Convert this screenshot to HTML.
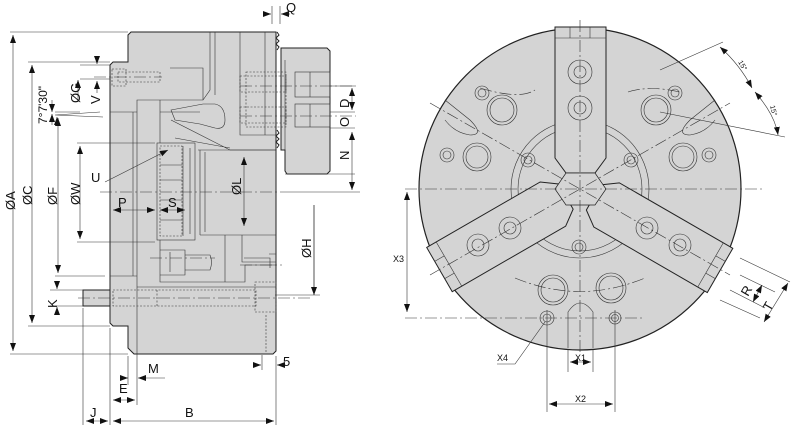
<!DOCTYPE html>
<html><head><meta charset="utf-8"><style>
html,body{margin:0;padding:0;background:#fff;}
svg{display:block;font-family:"Liberation Sans",sans-serif;}
.l{stroke:#222;stroke-width:1;fill:none}
.t{stroke:#333;stroke-width:0.6;fill:none}
.d{stroke:#333;stroke-width:0.6;fill:none;stroke-dasharray:2,1.5}
.c{stroke:#333;stroke-width:0.6;fill:none;stroke-dasharray:12,3,2,3}
text{font-size:13px;fill:#111}
.s{font-size:9px}
</style></head><body>
<svg width="800" height="429" viewBox="0 0 800 429">
<defs>
<marker id="a" markerWidth="8" markerHeight="6" refX="8" refY="3" orient="auto-start-reverse" markerUnits="userSpaceOnUse"><path d="M0,0 L8,3 L0,6 z" fill="#111"/></marker>
</defs>

<g>
<path d="M131,32 L276,32 L276,351 L273,354 L134,354 L128,348 L128,326 L113,326 L110,323 L110,65 L113,62 L128,62 L128,35 Z" fill="#d4d4d4" stroke="#222"/>
<rect x="83" y="290" width="27" height="16" fill="#d4d4d4" stroke="#222"/>
<path d="M281,48 L327,48 L330,51 L330,171 L327,174 L287,174 L285,171 L285,150 L281,150 Z" fill="#d4d4d4" stroke="#222"/>
<path class="l" d="M277,32 l2,3 l-3,3 l3,3 l-3,3 l3,3 l-2,3 M277,130 l2,3 l-3,3 l3,3 l-3,3 l3,3 l-2,3"/>
<rect x="295" y="72" width="35" height="25" class="t"/>
<rect x="295" y="104" width="35" height="23" class="t"/>
<line x1="310" y1="72" x2="310" y2="97" class="t"/><line x1="310" y1="104" x2="310" y2="127" class="t"/>
<line x1="285" y1="60" x2="285" y2="150" class="t"/>
<rect x="246" y="72" width="40" height="55" class="d"/>
<rect x="240" y="76" width="46" height="16" class="d"/>
<rect x="240" y="107" width="46" height="16" class="d"/>
<path class="t" d="M210,32 L210,90 L203,100 L137,100 L137,326 M215,32 L215,95 M240,32 L240,135 L276,135 M265,32 L265,135"/>
<path class="t" d="M137,112 L133,112 L133,276 L137,276 M133,112 L110,112 M110,276 L133,276"/>
<path class="t" d="M160,100 L160,143 M160,112 L200,112 M170,68 L203,68 L203,100"/>
<path class="t" d="M171,110 L203,104 L215,104 Q225,106 225,120 Q225,130 215,128 L200,124 L175,120 Z"/>
<path class="t" d="M171,120 L230,150 L276,150 M175,138 L230,148"/>
<rect x="157" y="143" width="38" height="97" class="t"/>
<rect x="160" y="146" width="22" height="90" class="d"/>
<line x1="183" y1="146" x2="183" y2="236" class="t"/>
<line x1="190" y1="148" x2="190" y2="234" class="t"/>
<path class="t" d="M160,165 L182,165 M160,180 L182,180 M160,200 L182,200 M160,220 L182,220"/>
<path class="t" d="M198,150 L276,150 M200,150 L200,235 M205,152 L205,232 M200,235 L276,235"/>
<path class="t" d="M160,240 L160,282 L245,282 L245,265 L276,265 M160,250 L185,250 L185,275 L160,275 M170,252 L170,272 M185,255 L210,255 Q213,262 210,270 L185,270"/>
<path class="t" d="M225,235 L225,282 M242,235 L242,262 L276,262 M244,258 L270,258 L270,268 M269,254 L276,254"/>
<path class="t" d="M137,287 L276,287"/>
<rect x="113" y="290" width="143" height="16" class="d"/>
<rect x="255" y="282" width="21" height="30" class="d"/>
<path class="d" d="M266,315 L266,352 M157,290 L157,306"/>
<rect x="112" y="69" width="14" height="17" class="d"/>
<rect x="118" y="72" width="42" height="10" class="d"/>
<line x1="100" y1="192" x2="290" y2="192" class="c"/>
<line x1="290" y1="192" x2="360" y2="192" class="t"/>
<line x1="78" y1="298" x2="310" y2="298" class="c"/>
<line x1="94" y1="77" x2="162" y2="77" class="c"/>
<line x1="240" y1="86" x2="356" y2="86" class="c"/>
<line x1="240" y1="116" x2="356" y2="116" class="c"/>
<line x1="150" y1="258" x2="215" y2="258" class="c"/>
<line x1="240" y1="265" x2="282" y2="265" class="c"/>

<g class="t">
<path d="M10,32 L128,32 M10,354 L128,354 M28,62 L110,62 M28,326 L110,326 M55,112 L80,112 M55,276 L105,276 M77,143 L155,143 M77,242 L155,242"/>
<path d="M80,65 L110,65 M80,79 L110,79 M50,290 L83,290 M50,306 L83,306 M55,115 L100,112 M55,115 L103,117"/>
<path d="M83,308 L83,425 M110,328 L110,425 M128,356 L128,385 M137,326 L137,405 M276,356 L276,425 M262,355 L262,370 M272,6 L272,24 M280,6 L280,24"/>
<path d="M330,86 L355,86 M330,128 L355,128 M285,174 L355,174 M330,112 L355,112 M275,295 L320,295 M314,205 L314,295"/>
</g>
<g class="t" marker-start="url(#a)" marker-end="url(#a)">
<line x1="13" y1="35" x2="13" y2="351"/>
<line x1="32" y1="65" x2="32" y2="323"/>
<line x1="58" y1="118" x2="58" y2="273"/>
<line x1="80" y1="146" x2="80" y2="239"/>
<line x1="113" y1="210" x2="155" y2="210"/>
<line x1="160" y1="210" x2="185" y2="210"/>
<line x1="244" y1="157" x2="244" y2="226"/>
<line x1="352" y1="88" x2="352" y2="110"/>
<line x1="352" y1="132" x2="352" y2="190"/>
<line x1="86" y1="421" x2="108" y2="421"/>
<line x1="113" y1="421" x2="274" y2="421"/>
<line x1="113" y1="400" x2="135" y2="400"/>
</g>
<g class="t" marker-end="url(#a)">
<line x1="97" y1="60" x2="97" y2="64"/><line x1="97" y1="93" x2="97" y2="81"/>
<line x1="57" y1="285" x2="57" y2="289"/><line x1="57" y1="311" x2="57" y2="307"/>
<line x1="121" y1="378" x2="128" y2="378"/><line x1="165" y1="378" x2="138" y2="378"/>
<line x1="255" y1="365" x2="261" y2="365"/><line x1="285" y1="365" x2="277" y2="365"/>
<line x1="264" y1="14" x2="271" y2="14"/><line x1="290" y1="14" x2="281" y2="14"/>
<line x1="314" y1="205" x2="314" y2="295"/>
<line x1="78" y1="102" x2="78" y2="80"/>
<line x1="52" y1="100" x2="52" y2="112"/><line x1="52" y1="125" x2="52" y2="114"/>
<line x1="57" y1="125" x2="57" y2="117"/>
<line x1="105" y1="182" x2="168" y2="150"/>
</g>
<g>
<text transform="translate(15,210) rotate(-90)">ØA</text>
<text transform="translate(32,205) rotate(-90)">ØC</text>
<text transform="translate(57,205) rotate(-90)">ØF</text>
<text transform="translate(80,205) rotate(-90)">ØW</text>
<text transform="translate(80,103) rotate(-90)">ØG</text>
<text transform="translate(100,104) rotate(-90)">V</text>
<text transform="translate(47,124) rotate(-90)" style="font-size:12px">7°7'30"</text>
<text transform="translate(57,308) rotate(-90)">K</text>
<text transform="translate(241,195) rotate(-90)">ØL</text>
<text transform="translate(311,258) rotate(-90)">ØH</text>
<text transform="translate(349,108) rotate(-90)">D</text>
<text transform="translate(349,127) rotate(-90)">O</text>
<text transform="translate(349,160) rotate(-90)">N</text>
<text x="91" y="182">U</text>
<text x="118" y="207">P</text>
<text x="168" y="207">S</text>
<text x="148" y="373">M</text>
<text x="119" y="393">E</text>
<text x="90" y="417">J</text>
<text x="185" y="417">B</text>
<text x="283" y="366">5</text>
<text x="286" y="12">Q</text>
</g>
</g>

<g>
<circle cx="580" cy="189" r="161" fill="#d4d4d4" stroke="#222" stroke-width="1.2"/>
<circle cx="580" cy="189" r="69" class="t"/>
<circle cx="580" cy="189" r="62" class="t"/>
<g id="jaw">
<path d="M555,27 L606,27 L606,158 L595,173 L566,173 L555,158 Z" fill="#d4d4d4" stroke="#222"/>
<line x1="555" y1="38" x2="606" y2="38" class="t"/>
<line x1="570" y1="27" x2="570" y2="38" class="t"/><line x1="590" y1="27" x2="590" y2="38" class="t"/>
</g>
<use href="#jaw" transform="rotate(120 580 189)"/>
<use href="#jaw" transform="rotate(240 580 189)"/>
<path d="M566,173 L595,173 L606,189 L595,205 L566,205 L555,189 Z" fill="#d4d4d4" stroke="#222" stroke-width="0.7"/>
<line x1="405" y1="189" x2="765" y2="189" class="c"/>
<line x1="580" y1="20" x2="580" y2="355" class="c"/>
<line x1="430" y1="103" x2="730" y2="275" class="c"/>
<line x1="430" y1="275" x2="730" y2="103" class="c"/>
<line x1="405" y1="318" x2="645" y2="318" class="c"/>
<path d="M515,278 Q580,305 645,278" class="c"/>
<path d="M480,88 Q520,100 535,90" class="c"/>
<path d="M628,92 Q650,85 680,92" class="c"/>
<g class="t">
<circle cx="580" cy="72" r="12"/><circle cx="580" cy="72" r="6"/>
<circle cx="580" cy="108" r="12"/><circle cx="580" cy="108" r="6"/>
<circle cx="482" cy="93" r="7"/><circle cx="482" cy="93" r="4"/>
<circle cx="502" cy="110" r="15"/><circle cx="502" cy="110" r="12"/>
<circle cx="447" cy="155" r="7"/><circle cx="447" cy="155" r="4"/>
<circle cx="477" cy="157" r="14"/><circle cx="477" cy="157" r="11"/>
<circle cx="656" cy="110" r="15"/><circle cx="656" cy="110" r="12"/>
<circle cx="675" cy="93" r="7"/><circle cx="675" cy="93" r="4"/>
<circle cx="683" cy="157" r="14"/><circle cx="683" cy="157" r="11"/>
<circle cx="709" cy="155" r="7"/><circle cx="709" cy="155" r="4"/>
<circle cx="528" cy="160" r="7"/><circle cx="528" cy="160" r="4"/>
<circle cx="631" cy="160" r="7"/><circle cx="631" cy="160" r="4"/>
<circle cx="579" cy="247" r="7"/><circle cx="579" cy="247" r="4"/>
<circle cx="510" cy="228" r="11"/><circle cx="510" cy="228" r="6"/>
<circle cx="478" cy="245" r="11"/><circle cx="478" cy="245" r="6"/>
<circle cx="647" cy="228" r="11"/><circle cx="647" cy="228" r="6"/>
<circle cx="680" cy="245" r="11"/><circle cx="680" cy="245" r="6"/>
<circle cx="553" cy="290" r="15"/><circle cx="553" cy="290" r="12"/>
<circle cx="611" cy="288" r="15"/><circle cx="611" cy="288" r="12"/>
<circle cx="547" cy="318" r="7"/><circle cx="547" cy="318" r="4"/>
<circle cx="615" cy="318" r="6"/><circle cx="615" cy="318" r="3.5"/>
<path d="M568,348 L568,312 Q580,294 593,312 L593,348"/>
<path d="M445,100 L470,120 Q485,135 470,135 Q455,133 445,120"/>
<path d="M715,100 L690,120 Q675,135 690,135 Q705,133 715,120"/>
</g>
<g class="t">
<path d="M547,310 L547,412 M615,310 L615,412 M568,350 L568,372 M593,350 L593,372"/>
<path d="M660,70 L723,42 M660,112 L785,137 M740,258 L790,282 M740,275 L775,292 M730,290 L765,308 M720,300 L760,318"/>
<path d="M497,364 L515,364 L545,322"/>
</g>
<g class="t" marker-start="url(#a)" marker-end="url(#a)">
<line x1="407" y1="192" x2="407" y2="312"/>
<line x1="570" y1="362" x2="591" y2="362"/>
<line x1="549" y1="404" x2="613" y2="404"/>
<path d="M720,47 Q740,65 752,88"/>
<path d="M755,92 Q775,115 778,135"/>
<line x1="762" y1="285" x2="753" y2="302"/>
<line x1="788" y1="283" x2="764" y2="322"/>
</g>
<g>
<text x="393" y="262" class="s">X3</text>
<text x="497" y="361" class="s">X4</text>
<text x="575" y="361" class="s">X1</text>
<text x="575" y="402" class="s">X2</text>
<text class="s" transform="translate(738,62) rotate(60)" style="font-size:7px">15°</text>
<text class="s" transform="translate(770,106) rotate(75)" style="font-size:7px">15°</text>
<text transform="translate(748,297) rotate(-60)">R</text>
<text transform="translate(770,312) rotate(-60)">T</text>
</g>
</g>
</svg>
</body></html>
